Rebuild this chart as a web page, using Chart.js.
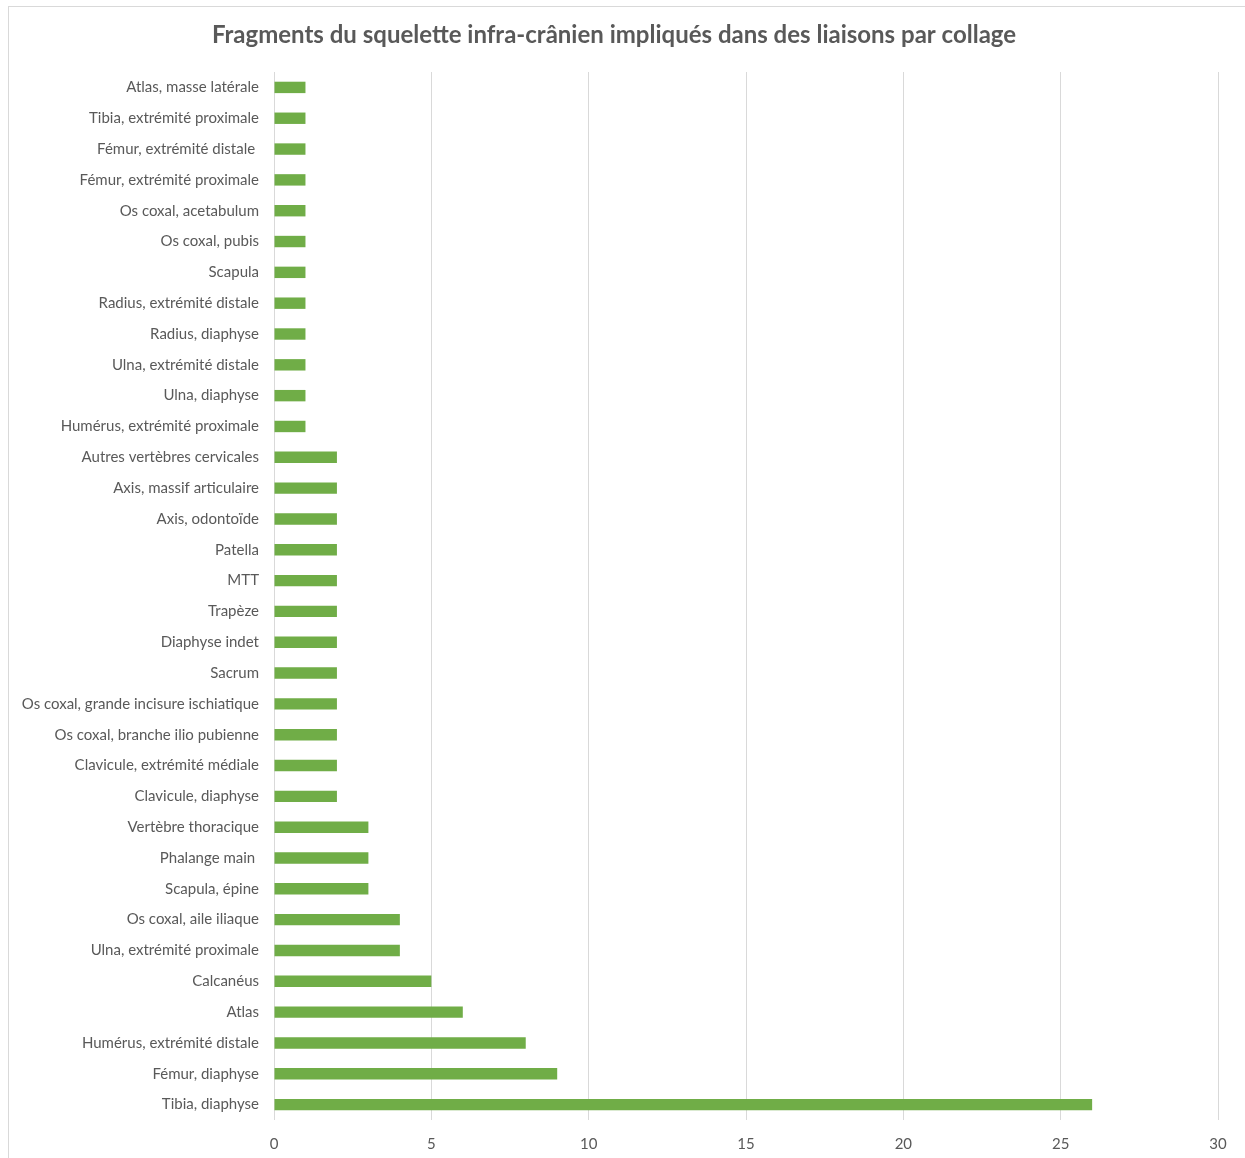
<!DOCTYPE html>
<html>
<head>
<meta charset="utf-8">
<script src="https://cdn.jsdelivr.net/npm/chart.js@4"></script>
<style>
  body { margin: 0; background: #fff; }
  #frame { position: absolute; left: 8px; top: 6px; width: 1250px; height: 1160px; border: 1px solid #d9d9d9; }
  #myChart { position: absolute; left: 0; top: 0; }
</style>
</head>
<body>
<div id="frame"></div>
<canvas id="myChart" width="1245" height="1158"></canvas>
<script>
var labels = [
  'Atlas, masse latérale',
  'Tibia, extrémité proximale',
  'Fémur, extrémité distale ',
  'Fémur, extrémité proximale',
  'Os coxal, acetabulum',
  'Os coxal, pubis',
  'Scapula',
  'Radius, extrémité distale',
  'Radius, diaphyse',
  'Ulna, extrémité distale',
  'Ulna, diaphyse',
  'Humérus, extrémité proximale',
  'Autres vertèbres cervicales',
  'Axis, massif articulaire',
  'Axis, odontoïde',
  'Patella',
  'MTT',
  'Trapèze',
  'Diaphyse indet',
  'Sacrum',
  'Os coxal, grande incisure ischiatique',
  'Os coxal, branche ilio pubienne',
  'Clavicule, extrémité médiale',
  'Clavicule, diaphyse',
  'Vertèbre thoracique',
  'Phalange main ',
  'Scapula, épine',
  'Os coxal, aile iliaque',
  'Ulna, extrémité proximale',
  'Calcanéus',
  'Atlas',
  'Humérus, extrémité distale',
  'Fémur, diaphyse',
  'Tibia, diaphyse'
];
var counts = [
  1, 1, 1, 1, 1, 1, 1, 1, 1, 1, 1, 1,
  2, 2, 2, 2, 2, 2, 2, 2, 2, 2, 2, 2,
  3, 3, 3, 4, 4, 5, 6, 8, 9, 26
];
var xTicks = [0, 5, 10, 15, 20, 25, 30];

var txt = '#595959';
var ctx = document.getElementById('myChart');

const cfg = {
  type: 'bar',
  data: {
    labels: labels,
    datasets: [{
      data: counts,
      backgroundColor: '#70ad47',
      barPercentage: 0.37,
      categoryPercentage: 1
    }]
  },
  options: {
    indexAxis: 'y',
    responsive: false,
    animation: false,
    layout: { padding: { left: 10, right: 27, top: 0, bottom: 0 } },
    plugins: {
      legend: { display: false },
      tooltip: { enabled: false },
      title: {
        display: true,
        text: 'Fragments du squelette infra-crânien impliqués dans des liaisons par collage',
        color: txt,
        font: { family: 'Lato', size: 24, weight: 'bold' },
        padding: { top: 21, bottom: 22.2 }
      }
    },
    scales: {
      x: {
        min: 0,
        max: 30,
        afterBuildTicks: function (s) { s.ticks = xTicks.map(v => ({ value: v })); },
        afterFit: function (s) { s.height = 38; },
        grid: { color: '#d9d9d9', drawTicks: false },
        border: { display: false },
        ticks: { color: txt, padding: 15, font: { family: 'Lato', size: 15 } }
      },
      y: {
        afterFit: function (s) { s.width = 264; },
        grid: { display: false, drawTicks: false },
        border: { display: false },
        ticks: { color: txt, padding: 15, autoSkip: false, font: { family: 'Lato', size: 15 } }
      }
    }
  }
};

new Chart(ctx, cfg);
</script>
</body>
</html>
